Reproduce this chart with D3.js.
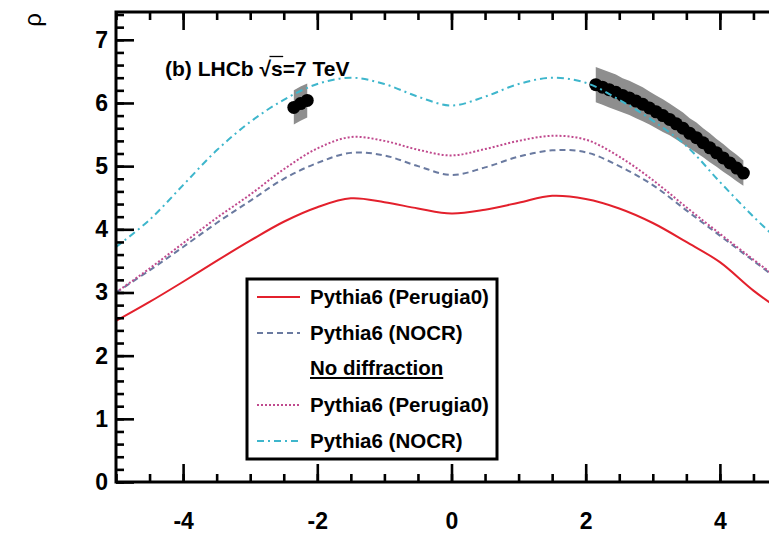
<!DOCTYPE html>
<html>
<head>
<meta charset="utf-8">
<script src="https://cdn.jsdelivr.net/npm/d3@7"></script>
<style>
  body { margin: 0; background: #fff; }
  svg { display: block; }
  text { font-family: "Liberation Sans", Arial, Helvetica, sans-serif; }
</style>
</head>
<body>
<svg id="chart" width="769" height="548"></svg>
<script>
// Pseudorapidity grid for the model curves
const etaGrid = [-5, -4.5, -4, -3.5, -3, -2.5, -2, -1.5, -1, -0.5, 0, 0.5, 1, 1.5, 2, 2.5, 3, 3.5, 4, 4.5, 5];

// Pythia6 tunes, with diffraction
const perugia0 = [2.55, 2.85, 3.17, 3.50, 3.82, 4.12, 4.35, 4.49, 4.43, 4.33, 4.25, 4.31, 4.42, 4.53, 4.48, 4.33, 4.10, 3.80, 3.48, 3.03, 2.65];
const nocr     = [3.00, 3.35, 3.72, 4.10, 4.45, 4.80, 5.05, 5.21, 5.17, 5.00, 4.86, 4.98, 5.15, 5.25, 5.22, 5.00, 4.70, 4.30, 3.90, 3.50, 3.10];
// Pythia6 tunes, no diffraction
const perugia0NoDiff = [3.00, 3.38, 3.78, 4.18, 4.55, 4.95, 5.28, 5.46, 5.40, 5.26, 5.17, 5.27, 5.40, 5.48, 5.42, 5.15, 4.78, 4.35, 3.93, 3.52, 3.12];
const nocrNoDiff     = [3.72, 4.15, 4.70, 5.25, 5.70, 6.05, 6.30, 6.40, 6.30, 6.10, 5.96, 6.10, 6.30, 6.40, 6.32, 6.05, 5.72, 5.32, 4.75, 4.20, 3.70];

// LHCb measurement (bin centres, density, uncertainty)
const dataEta = [-2.35, -2.25, -2.15,
  2.15, 2.25, 2.35, 2.45, 2.55, 2.65, 2.75, 2.85, 2.95, 3.05, 3.15, 3.25,
  3.35, 3.45, 3.55, 3.65, 3.75, 3.85, 3.95, 4.05, 4.15, 4.25, 4.35];
const dataRho = [5.93, 5.99, 6.04,
  6.29, 6.25, 6.21, 6.17, 6.12, 6.08, 6.03, 5.98, 5.92, 5.86, 5.80, 5.74,
  5.67, 5.60, 5.52, 5.45, 5.37, 5.29, 5.21, 5.13, 5.05, 4.97, 4.89];
const dataErr = [0.27, 0.27, 0.27,
  0.28, 0.28, 0.28, 0.28, 0.27, 0.27, 0.27, 0.27, 0.26, 0.26, 0.26, 0.25,
  0.25, 0.25, 0.24, 0.24, 0.23, 0.23, 0.22, 0.22, 0.21, 0.21, 0.20];

const xTickLabels = [-4, -2, 0, 2, 4];
const yTickLabels = [0, 1, 2, 3, 4, 5, 6, 7];

const legendLabels = ["Pythia6 (Perugia0)", "Pythia6 (NOCR)", "No diffraction", "Pythia6 (Perugia0)", "Pythia6 (NOCR)"];

const svg = d3.select("#chart");
const frameL = 116, frameR = 787, frameT = 12, frameB = 482;
const x = d3.scaleLinear().domain([-5, 5]).range([frameL, frameR]);
const y = d3.scaleLinear().domain([0, 7.44]).range([frameB, frameT]);

svg.append("defs").append("clipPath").attr("id", "plotClip")
  .append("rect").attr("x", frameL).attr("y", frameT).attr("width", frameR - frameL).attr("height", frameB - frameT);

const plot = svg.append("g").attr("clip-path", "url(#plotClip)");

// Measurement: grey uncertainty band and black markers
const pts = dataEta.map((e, i) => ({ e, r: dataRho[i], s: dataErr[i] }));
const segments = [];
pts.forEach((p, i) => {
  if (i === 0 || p.e - pts[i - 1].e > 0.15) segments.push([]);
  segments[segments.length - 1].push(p);
});
const band = d3.area().x(d => x(d.e)).y0(d => y(d.r - d.s)).y1(d => y(d.r + d.s));
plot.selectAll("path.band").data(segments).join("path")
  .attr("class", "band").attr("d", band).attr("fill", "#8e8e8e");
plot.selectAll("circle.pt").data(pts).join("circle")
  .attr("class", "pt").attr("cx", d => x(d.e)).attr("cy", d => y(d.r)).attr("r", 6.5).attr("fill", "#000");

// Model curves
const series = [
  { vals: perugia0, color: "#e3202c", dash: null, w: 2 },
  { vals: nocr, color: "#6a7aa0", dash: "6,4", w: 2 },
  { vals: perugia0NoDiff, color: "#c04a8e", dash: "2,2", w: 2 },
  { vals: nocrNoDiff, color: "#3eb6cc", dash: "7,4,2,4", w: 2 }
];
const line = d3.line().x((d, i) => x(etaGrid[i])).y(d => y(d)).curve(d3.curveCatmullRom.alpha(0.5));
plot.selectAll("path.model").data(series).join("path")
  .attr("class", "model")
  .attr("d", d => line(d.vals))
  .attr("fill", "none")
  .attr("stroke", d => d.color)
  .attr("stroke-width", d => d.w)
  .attr("stroke-dasharray", d => d.dash);

// Axes: ticks on all four sides, pointing inward
const xMinor = d3.range(-5, 5.001, 0.5);
const yMinor = d3.range(0, 7.44, 0.2);
function styleAxis(g) {
  g.select(".domain").remove();
  g.selectAll("line").attr("stroke", "#000").attr("stroke-width", 2.6);
}
svg.append("g").attr("transform", `translate(0,${frameB})`)
  .call(d3.axisBottom(x).tickValues(xMinor).tickSize(-8).tickFormat(""))
  .call(styleAxis);
svg.append("g").attr("transform", `translate(0,${frameT})`)
  .call(d3.axisTop(x).tickValues(xMinor).tickSize(-8).tickFormat(""))
  .call(styleAxis);
svg.append("g").attr("transform", `translate(${frameL},0)`)
  .call(d3.axisLeft(y).tickValues(yMinor).tickSize(-8).tickFormat(""))
  .call(styleAxis);
svg.append("g").attr("transform", `translate(${frameR},0)`)
  .call(d3.axisRight(y).tickValues(yMinor).tickSize(-8).tickFormat(""))
  .call(styleAxis);

const xAxis = svg.append("g").attr("transform", `translate(0,${frameB})`)
  .call(d3.axisBottom(x).tickValues(xTickLabels).tickSize(-18).tickPadding(31).tickFormat(d3.format("d")))
  .call(styleAxis);
svg.append("g").attr("transform", `translate(0,${frameT})`)
  .call(d3.axisTop(x).tickValues(xTickLabels).tickSize(-18).tickFormat(""))
  .call(styleAxis);
const yAxis = svg.append("g").attr("transform", `translate(${frameL},0)`)
  .call(d3.axisLeft(y).tickValues(yTickLabels).tickSize(-18).tickPadding(8).tickFormat(d3.format("d")))
  .call(styleAxis);
svg.append("g").attr("transform", `translate(${frameR},0)`)
  .call(d3.axisRight(y).tickValues(yTickLabels).tickSize(-18).tickFormat(""))
  .call(styleAxis);

[xAxis, yAxis].forEach(g => g.selectAll("text")
  .attr("fill", "#000")
  .style("font-family", '"Liberation Sans", Arial, sans-serif')
  .style("font-size", "23px")
  .style("font-weight", "bold"));
xAxis.selectAll("text").text(d => d < 0 ? "-" + Math.abs(d) : d);

// Frame
svg.append("rect").attr("x", frameL).attr("y", frameT).attr("width", frameR - frameL).attr("height", frameB - frameT)
  .attr("fill", "none").attr("stroke", "#000").attr("stroke-width", 3);

// Axis title
svg.append("text")
  .attr("transform", "translate(41,20) rotate(-90)")
  .attr("text-anchor", "middle")
  .style("font-size", "24px")
  .style("font-family", '"Liberation Sans", Arial, sans-serif')
  .text("ρ");

// Plot label with a drawn radical bar over s
const titleY = 76;
const title = svg.append("text")
  .attr("x", 165).attr("y", titleY)
  .style("font-size", "21px").style("font-weight", "bold")
  .text("(b) LHCb \u221As=7 TeV");
const tNode = title.node();
const rootIdx = title.text().indexOf("\u221A");
const sEnd = tNode.getEndPositionOfChar(rootIdx + 1).x;
const rootEnd = tNode.getEndPositionOfChar(rootIdx).x;
svg.append("line")
  .attr("x1", rootEnd - 1.5).attr("x2", sEnd + 0.5)
  .attr("y1", titleY - 19.5).attr("y2", titleY - 19.5)
  .attr("stroke", "#000").attr("stroke-width", 1.3);

// Legend
const lg = svg.append("g");
lg.append("rect").attr("x", 247).attr("y", 279).attr("width", 250).attr("height", 180)
  .attr("fill", "#fff").attr("stroke", "#000").attr("stroke-width", 3);
const legendRows = [
  { label: legendLabels[0], s: series[0], cy: 297 },
  { label: legendLabels[1], s: series[1], cy: 333 },
  { label: legendLabels[2], s: null, cy: 368 },
  { label: legendLabels[3], s: series[2], cy: 405 },
  { label: legendLabels[4], s: series[3], cy: 441 }
];
legendRows.forEach(r => {
  if (r.s) {
    lg.append("line").attr("x1", 257).attr("x2", 300).attr("y1", r.cy).attr("y2", r.cy)
      .attr("stroke", r.s.color).attr("stroke-width", r.s.w).attr("stroke-dasharray", r.s.dash);
  }
  const t = lg.append("text").attr("x", 310).attr("y", r.cy + 7)
    .style("font-size", "20.5px").style("font-weight", "bold").text(r.label);
  if (!r.s) {
    const wdt = t.node().getComputedTextLength();
    lg.append("line").attr("x1", 310).attr("x2", 310 + wdt).attr("y1", r.cy + 10).attr("y2", r.cy + 10)
      .attr("stroke", "#000").attr("stroke-width", 2);
  }
});
</script>
</body>
</html>
